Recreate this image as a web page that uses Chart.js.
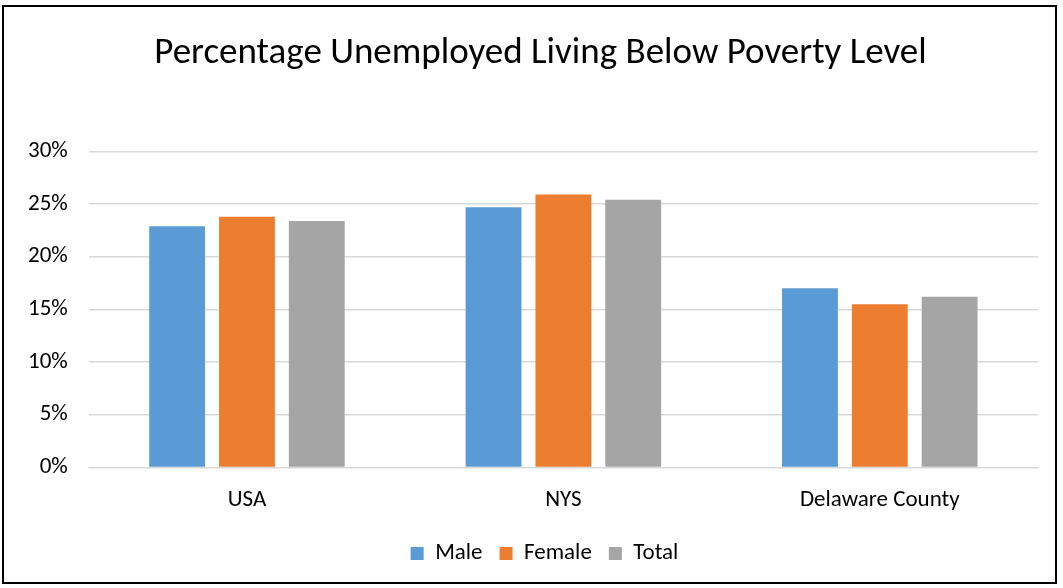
<!DOCTYPE html>
<html>
<head>
<meta charset="utf-8">
<script src="https://cdn.jsdelivr.net/npm/chart.js@4.4.0/dist/chart.umd.min.js"></script>
<style>
  html, body { margin: 0; padding: 0; background: #fff; }
  #frame {
    position: absolute; left: 2px; top: 5px;
    width: 1055px; height: 579px;
    border: 2px solid #000; box-sizing: border-box;
  }
  #wrap { position: absolute; left: 0; top: 0; right: 0; bottom: 0; }
</style>
</head>
<body>
<div id="frame"><div id="wrap"><canvas id="chart"></canvas></div></div>
<script>
// --- Data ---
const categories = ['USA', 'NYS', 'Delaware County'];
const maleValues = [22.9, 24.7, 17.0];
const femaleValues = [23.8, 25.9, 15.5];
const totalValues = [23.4, 25.4, 16.2];
const seriesNames = ['Male', 'Female', 'Total'];
const seriesColors = ['#5b9bd5', '#ed7d31', '#a5a5a5'];

const FONT = "Calibri, Carlito, 'Open Sans', sans-serif";

function makeDataset(i, values) {
    return {
        label: seriesNames[i],
        data: values,
        backgroundColor: seriesColors[i],
        borderWidth: 0,
        barPercentage: 0.8,
        categoryPercentage: 0.662
    };
}

// the original centres title & legend a little right of the frame centre
const nudgeBlocks = {
    id: 'nudgeBlocks',
    afterLayout(chart) {
        if (chart.titleBlock) {
            chart.titleBlock.left += 18;
            chart.titleBlock.right += 18;
        }
        if (chart.legend) {
            chart.legend.left += 22;
            chart.legend.right += 22;
        }
    }
};

new Chart(document.getElementById('chart').getContext('2d'), {
    type: 'bar',
    data: {
        labels: categories,
        datasets: [
            makeDataset(0, maleValues),
            makeDataset(1, femaleValues),
            makeDataset(2, totalValues)
        ]
    },
    plugins: [nudgeBlocks],
    options: {
        responsive: true,
        maintainAspectRatio: false,
        animation: false,
        layout: { padding: { left: 3, right: 17, top: 10, bottom: 7 } },
        plugins: {
            title: {
                display: true,
                text: 'Percentage Unemployed Living Below Poverty Level',
                color: '#000',
                font: { family: FONT, size: 37, weight: 'normal' },
                padding: { top: 15, bottom: 75 }
            },
            legend: {
                position: 'bottom',
                labels: {
                    color: '#000',
                    font: { family: FONT, size: 23 },
                    boxWidth: 13,
                    boxHeight: 13,
                    padding: 17
                }
            },
            tooltip: { enabled: false }
        },
        scales: {
            x: {
                grid: { display: false },
                border: { color: '#d9d9d9', width: 1 },
                ticks: { color: '#000', font: { family: FONT, size: 23 }, padding: 11 }
            },
            y: {
                min: 0,
                max: 30,
                ticks: {
                    stepSize: 5,
                    color: '#000',
                    font: { family: FONT, size: 23 },
                    padding: 21,
                    callback: v => v + '%'
                },
                grid: { color: '#d9d9d9', lineWidth: 1.5, drawTicks: false },
                border: { display: false }
            }
        }
    }
});
</script>
</body>
</html>
